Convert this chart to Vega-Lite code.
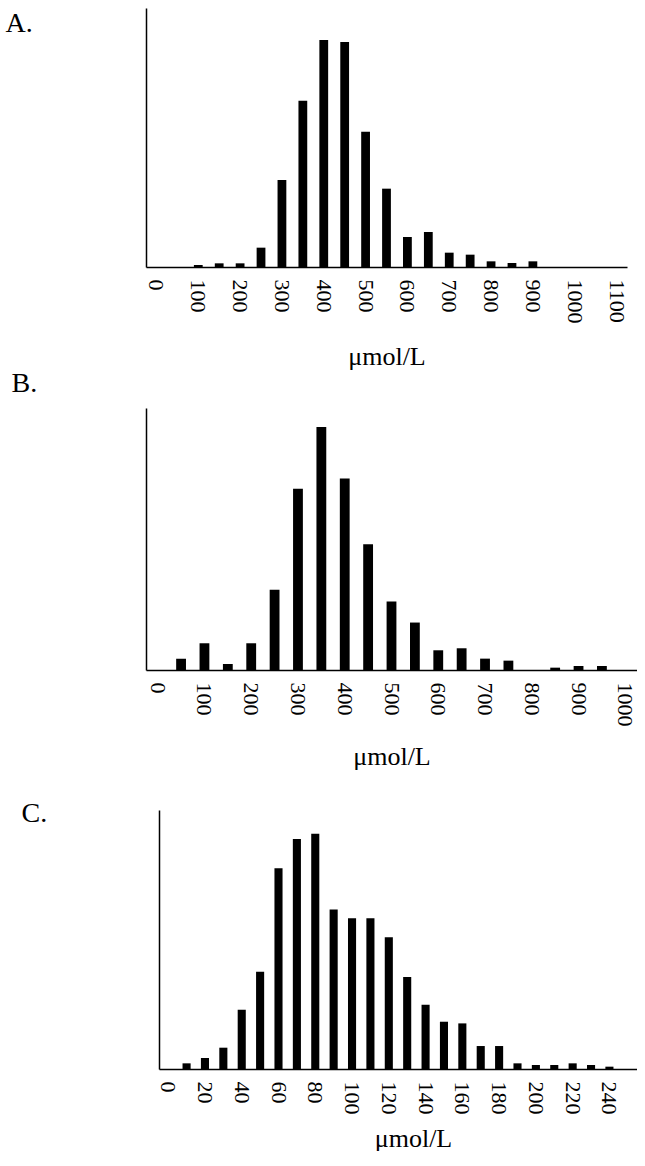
{
  "$schema": "https://vega.github.io/schema/vega-lite/v6.json",
  "padding": {"left": 5, "top": 8, "right": 0, "bottom": 0},
  "background": "white",
  "config": {"view": {"stroke": null}, "axis": {"grid": false}},
  "datasets": {
    "A": [
      {"x": 0, "n": 0}, {"x": 50, "n": 0}, {"x": 100, "n": 6}, {"x": 150, "n": 11}, {"x": 200, "n": 11},
      {"x": 250, "n": 58}, {"x": 300, "n": 261}, {"x": 350, "n": 499}, {"x": 400, "n": 681}, {"x": 450, "n": 675},
      {"x": 500, "n": 406}, {"x": 550, "n": 235}, {"x": 600, "n": 90}, {"x": 650, "n": 105}, {"x": 700, "n": 43},
      {"x": 750, "n": 37}, {"x": 800, "n": 17}, {"x": 850, "n": 12}, {"x": 900, "n": 17}, {"x": 950, "n": 0},
      {"x": 1000, "n": 0}, {"x": 1050, "n": 0}, {"x": 1100, "n": 0}
    ],
    "B": [
      {"x": 0, "n": 0}, {"x": 50, "n": 34}, {"x": 100, "n": 80}, {"x": 150, "n": 18}, {"x": 200, "n": 80},
      {"x": 250, "n": 240}, {"x": 300, "n": 542}, {"x": 350, "n": 727}, {"x": 400, "n": 573}, {"x": 450, "n": 376},
      {"x": 500, "n": 205}, {"x": 550, "n": 142}, {"x": 600, "n": 59}, {"x": 650, "n": 65}, {"x": 700, "n": 34},
      {"x": 750, "n": 28}, {"x": 800, "n": 0}, {"x": 850, "n": 7}, {"x": 900, "n": 12}, {"x": 950, "n": 12},
      {"x": 1000, "n": 0}
    ],
    "C": [
      {"x": 0, "n": 0}, {"x": 10, "n": 17}, {"x": 20, "n": 33}, {"x": 30, "n": 64}, {"x": 40, "n": 178},
      {"x": 50, "n": 292}, {"x": 60, "n": 603}, {"x": 70, "n": 691}, {"x": 80, "n": 707}, {"x": 90, "n": 479},
      {"x": 100, "n": 453}, {"x": 110, "n": 453}, {"x": 120, "n": 396}, {"x": 130, "n": 276}, {"x": 140, "n": 193},
      {"x": 150, "n": 142}, {"x": 160, "n": 137}, {"x": 170, "n": 69}, {"x": 180, "n": 69}, {"x": 190, "n": 17},
      {"x": 200, "n": 12}, {"x": 210, "n": 12}, {"x": 220, "n": 17}, {"x": 230, "n": 12}, {"x": 240, "n": 7},
      {"x": 250, "n": 0}
    ]
  },
  "spacing": 30,
  "vconcat": [
    {
      "spacing": 0,
      "vconcat": [
        {
          "width": 481,
          "height": 259,
          "data": {"name": "A"},
          "mark": {"type": "bar", "color": "black"},
          "encoding": {
            "x": {
              "field": "x", "type": "ordinal", "sort": null,
              "scale": {"paddingInner": 0.58, "paddingOuter": 0.29},
              "axis": {
                "values": [0, 100, 200, 300, 400, 500, 600, 700, 800, 900, 1000, 1100],
                "labelAngle": 90, "labelFont": "Liberation Serif", "labelFontSize": 22, "labelColor": "black",
                "labelPadding": 12, "ticks": false, "labelOverlap": false, "labelBound": false,
                "domainColor": "black", "domainWidth": 1.5,
                "title": "μmol/L", "titleFont": "Liberation Serif", "titleFontSize": 26, "titleFontWeight": "normal",
                "titleColor": "black", "titlePadding": 20
              }
            },
            "y": {
              "field": "n", "type": "quantitative",
              "scale": {"domain": [0, 777], "nice": false},
              "axis": {
                "labels": false, "ticks": false, "domain": true, "domainColor": "black", "domainWidth": 1.5,
                "title": "A.", "titleAngle": 0, "titleX": -141, "titleY": 23, "titleAlign": "left",
                "titleBaseline": "alphabetic", "titleFont": "Liberation Serif", "titleFontSize": 28,
                "titleFontWeight": "normal", "titleColor": "black", "minExtent": 0
              }
            }
          }
        },
        {
          "width": 491,
          "height": 262,
          "data": {"name": "B"},
          "mark": {"type": "bar", "color": "black"},
          "encoding": {
            "x": {
              "field": "x", "type": "ordinal", "sort": null,
              "scale": {"paddingInner": 0.58, "paddingOuter": 0.29},
              "axis": {
                "values": [0, 100, 200, 300, 400, 500, 600, 700, 800, 900, 1000],
                "labelAngle": 90, "labelFont": "Liberation Serif", "labelFontSize": 22, "labelColor": "black",
                "labelPadding": 12, "ticks": false, "labelOverlap": false, "labelBound": false,
                "domainColor": "black", "domainWidth": 1.5,
                "title": "μmol/L", "titleFont": "Liberation Serif", "titleFontSize": 26, "titleFontWeight": "normal",
                "titleColor": "black", "titlePadding": 17
              }
            },
            "y": {
              "field": "n", "type": "quantitative",
              "scale": {"domain": [0, 784], "nice": false},
              "axis": {
                "labels": false, "ticks": false, "domain": true, "domainColor": "black", "domainWidth": 1.5,
                "title": "B.", "titleAngle": 0, "titleX": -135, "titleY": -17, "titleAlign": "left",
                "titleBaseline": "alphabetic", "titleFont": "Liberation Serif", "titleFontSize": 28,
                "titleFontWeight": "normal", "titleColor": "black", "minExtent": 0
              }
            }
          }
        }
      ]
    },
    {
      "width": 491,
      "height": 259,
      "data": {"name": "C"},
      "mark": {"type": "bar", "color": "black"},
      "encoding": {
        "x": {
          "field": "x", "type": "ordinal", "sort": null,
          "scale": {"paddingInner": 0.56, "paddingOuter": 0.28, "range": [13, 491]},
          "axis": {
            "values": [0, 20, 40, 60, 80, 100, 120, 140, 160, 180, 200, 220, 240],
            "labelAngle": 90, "labelFont": "Liberation Serif", "labelFontSize": 22, "labelColor": "black",
            "labelPadding": 12, "ticks": false, "labelOverlap": false, "labelBound": false,
            "domainColor": "black", "domainWidth": 1.5,
            "title": "μmol/L", "titleFont": "Liberation Serif", "titleFontSize": 26, "titleFontWeight": "normal",
            "titleColor": "black", "titlePadding": 11, "titleX": 267
          }
        },
        "y": {
          "field": "n", "type": "quantitative",
          "scale": {"domain": [0, 778], "nice": false},
          "axis": {
            "labels": false, "ticks": false, "domain": true, "domainColor": "black", "domainWidth": 1.5,
            "offset": -13,
            "title": "C.", "titleAngle": 0, "titleX": -138, "titleY": 11, "titleAlign": "left",
            "titleBaseline": "alphabetic", "titleFont": "Liberation Serif", "titleFontSize": 28,
            "titleFontWeight": "normal", "titleColor": "black", "minExtent": 0
          }
        }
      }
    }
  ]
}
